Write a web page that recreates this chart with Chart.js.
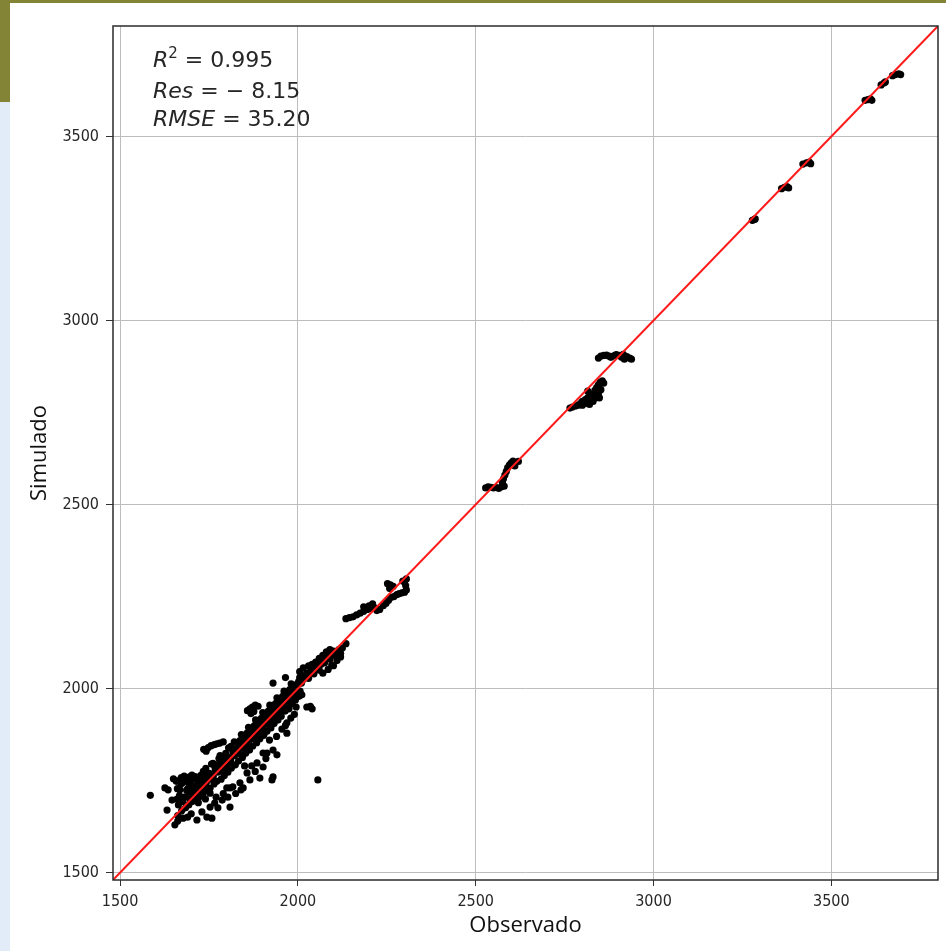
<!DOCTYPE html>
<html><head><meta charset="utf-8">
<script src="https://cdn.jsdelivr.net/npm/chart.js@4.4.0/dist/chart.umd.min.js"></script>
<style>
html,body{margin:0;padding:0;background:#fff;width:946px;height:951px;overflow:hidden;position:relative}
#olivTop{position:absolute;left:0;top:0;width:946px;height:3px;background:#848437}
#olivLeft{position:absolute;left:0;top:0;width:10px;height:102px;background:#848437}
#blueLeft{position:absolute;left:0;top:102px;width:10px;height:849px;background:#e1ecf8}
#c{position:absolute;left:0;top:0}
#stats{position:absolute;left:153px;top:46px;font-family:'DejaVu Sans',sans-serif;font-size:22px;line-height:28.5px;color:#262626;white-space:pre}
#stats .s{position:relative;top:-9px;font-size:15px}
</style></head>
<body>
<div id="olivTop"></div><div id="olivLeft"></div><div id="blueLeft"></div>
<canvas id="c" width="946" height="951"></canvas>
<div id="stats"><div><i>R</i><span class="s">2</span> = 0.995</div><div><i>Res</i> = − 8.15</div><div><i>RMSE</i> = 35.20</div></div>
<script>
// tick labels
const xTicks = [1500, 2000, 2500, 3000, 3500];
const yTicks = [1500, 2000, 2500, 3000, 3500];
const axisMin = 1480, axisMax = 3800;
// 1:1 line ends
const lineEnds = [1480, 3800];

// [Observado, Simulado]
const grupoDisperso = [
[1585,1710],[1626,1730],[1635,1725],[1646,1697],[1632,1670],[1654,1630],[1662,1640],[1677,1648],
[1690,1651],[1716,1643],[1744,1651],[1758,1648],[1753,1678],[1775,1676],[1766,1689],[1809,1678],
[1803,1705],[1787,1697],[1753,1716],[1716,1711],[1817,1733],[1691,1725],[1668,1725],[1700,1660],
[1730,1665],[1790,1715],[1770,1705],[1825,1715],[1840,1725],[1720,1690],[1740,1700],[1660,1700],
[1650,1755],[1658,1748]
];
const grupoBlob = [
[1665,1750],[1672,1758],[1680,1762],[1688,1755],[1695,1760],[1702,1765],[1710,1758],[1676,1745],[1698,1748],
[1735,1835],[1742,1830],[1748,1840],[1756,1845],[1765,1848],[1772,1850],[1780,1852],[1790,1855],
[1858,1940],[1865,1945],[1872,1950],[1880,1955],[1888,1952],[1868,1932],[1876,1938]
];
const grupoFaixa = [
[1662,1655],[1664,1684],[1667,1709],[1661,1728],
[1673,1668],[1676,1693],[1671,1741],[1678,1757],
[1684,1676],[1683,1706],[1687,1724],[1682,1748],
[1693,1684],[1696,1699],[1691,1729],[1694,1744],
[1703,1693],[1706,1715],[1701,1735],[1704,1754],
[1714,1697],[1712,1719],[1716,1738],[1711,1761],
[1723,1706],[1726,1725],[1721,1748],[1727,1764],
[1733,1713],[1736,1739],[1731,1752],[1734,1775],
[1744,1724],[1742,1743],[1747,1768],[1741,1783],
[1753,1729],[1756,1754],[1751,1770],[1757,1795],
[1764,1741],[1762,1762],[1767,1785],[1761,1797],
[1772,1748],[1775,1773],[1771,1793],[1778,1810],
[1784,1754],[1782,1779],[1786,1798],[1781,1818],
[1793,1764],[1796,1783],[1791,1813],[1797,1824],
[1803,1773],[1806,1798],[1801,1812],[1805,1839],
[1813,1784],[1811,1803],[1817,1829],[1812,1843],
[1824,1793],[1822,1818],[1826,1833],[1821,1855],
[1833,1803],[1836,1823],[1831,1849],[1837,1859],
[1844,1813],[1842,1838],[1846,1853],[1841,1875],
[1853,1824],[1856,1843],[1851,1869],[1857,1879],
[1864,1833],[1862,1858],[1866,1873],[1861,1895],
[1873,1844],[1876,1863],[1871,1889],[1877,1899],
[1884,1853],[1882,1878],[1886,1893],[1881,1915],
[1893,1864],[1896,1883],[1891,1909],[1897,1919],
[1904,1873],[1902,1898],[1906,1913],[1901,1935],
[1913,1884],[1916,1903],[1911,1929],[1917,1939],
[1924,1893],[1922,1918],[1926,1933],[1921,1955],
[1933,1905],[1936,1923],[1931,1949],[1937,1959],
[1944,1915],[1942,1938],[1946,1953],[1941,1975],
[1953,1925],[1956,1943],[1951,1969],[1957,1979],
[1964,1939],[1962,1958],[1966,1973],[1961,1993],
[1973,1949],[1976,1963],[1971,1989],[1977,1997],
[1984,1959],[1982,1978],[1986,1993],[1981,2013],
[1993,1969],[1996,1983],[1991,2009],
[2003,1979],[2006,1993],[2002,2019],
[1695,1718],[1725,1735],[1745,1757],[1788,1790],[1815,1816],[1848,1855],[1875,1880],[1905,1905],
[1935,1940],[1965,1968],[1708,1726],[1738,1760],[1768,1778],[1798,1806],[1828,1836],[1858,1866],
[1888,1899],[1918,1925],[1948,1958],[1978,1985]
];
const grupoDireita = [
[1913,1825],[1885,1798],[1902,1787],[1927,1752],[1893,1757],[1857,1771],[1865,1752],[1837,1744],
[1809,1730],[1846,1730],[1902,1825],[1930,1833],[1941,1820],[1800,1730],[1880,1775],[1910,1810],
[1870,1790],[1850,1790],[1920,1860],[1940,1870],[1955,1890],[1965,1900],[1980,1920],[1990,1930],
[1975,1945],[1995,1950],[1930,2015],[1965,2030],[2025,1950],[2040,1945],[2035,1952],[2006,1988],
[2011,1983],[1941,1915],[1969,1907],[1969,1879],[2056,1752],[1930,1760]
];
const grupo2100 = [
[1995,2010],[2005,2030],[2010,2015],[2015,2025],[2020,2035],[2025,2042],[2030,2028],[2035,2046],
[2040,2052],[2045,2040],[2050,2056],[2055,2062],[2060,2050],[2065,2066],[2070,2076],[2075,2070],
[2080,2086],[2085,2092],[2090,2080],[2095,2096],[2100,2102],[2105,2090],[2110,2100],[2115,2106],
[2120,2096],[2125,2110],[2135,2122],[2040,2066],[2050,2072],[2060,2082],[2070,2090],[2080,2100],
[2090,2106],[2100,2062],[2110,2076],[2120,2086],[2070,2042],[2085,2052],[2095,2064],[2005,2046],
[2015,2056],[2030,2062]
];
const grupo2250 = [
[2135,2190],[2145,2193],[2155,2195],[2165,2200],[2175,2205],[2185,2210],[2195,2215],[2205,2218],
[2215,2220],[2222,2212],[2230,2215],[2240,2225],[2248,2232],[2255,2240],[2262,2248],[2270,2250],
[2278,2255],[2285,2258],[2292,2260],[2300,2262],[2305,2268],[2303,2280],[2300,2290],[2305,2298],
[2295,2292],[2252,2285],[2260,2282],[2268,2278],[2258,2272],[2185,2222],[2200,2225],[2210,2230]
];
const grupo2550 = [
[2528,2545],[2535,2548],[2542,2547],[2550,2545],[2558,2546],[2565,2544],[2572,2548],[2580,2550],
[2575,2560],[2578,2570],[2582,2580],[2586,2590],[2590,2600],[2595,2608],[2600,2613],[2605,2618],
[2620,2617],[2610,2605]
];
const grupo2800 = [
[2765,2762],[2772,2765],[2780,2768],[2788,2770],[2795,2775],[2800,2780],[2808,2785],[2815,2790],
[2822,2795],[2830,2800],[2835,2810],[2840,2818],[2845,2825],[2850,2832],[2856,2836],[2860,2830],
[2852,2812],[2845,2800],[2838,2790],[2830,2780],[2820,2772],[2810,2775],[2800,2770],[2828,2788],
[2848,2790],[2815,2808]
];
const grupo2900 = [
[2845,2898],[2852,2903],[2860,2905],[2868,2906],[2875,2903],[2880,2900],[2888,2904],[2895,2907],
[2903,2905],[2910,2900],[2918,2895],[2925,2902],[2933,2898],[2938,2895],[2915,2908]
];
const grupoAlto = [
[3278,3272],[3283,3274],[3286,3276],
[3360,3358],[3368,3362],[3375,3364],[3380,3360],
[3420,3425],[3430,3428],[3438,3430],[3442,3426],
[3595,3598],[3603,3600],[3610,3602],[3614,3598],
[3640,3640],[3648,3645],[3652,3648],
[3672,3665],[3680,3668],[3690,3670],[3695,3668]
];

const pontos = [].concat(grupoDisperso, grupoBlob, grupoFaixa, grupoDireita, grupo2100,
  grupo2250, grupo2550, grupo2800, grupo2900, grupoAlto).map(p => ({x: p[0], y: p[1]}));

const tickFont = {family: "'DejaVu Sans Condensed', 'DejaVu Sans', sans-serif", size: 16};
const titleFont = {family: "'Open Sans', sans-serif", size: 22};

const frame = {
  id: 'frame',
  afterDraw(chart) {
    const {ctx, chartArea: a} = chart;
    ctx.save();
    ctx.strokeStyle = '#2b2b2b';
    ctx.lineWidth = 1.5;
    ctx.strokeRect(a.left, a.top, a.right - a.left, a.bottom - a.top);
    ctx.restore();
  }
};

new Chart(document.getElementById('c'), {
  type: 'scatter',
  data: {
    datasets: [
      {
        type: 'line',
        data: lineEnds.map(v => ({x: v, y: v})),
        borderColor: '#ff1a1a',
        borderWidth: 2,
        pointRadius: 0,
        fill: false,
        order: 0
      },
      {
        data: pontos,
        backgroundColor: '#000',
        borderColor: '#000',
        borderWidth: 0,
        pointRadius: 3.6,
        order: 1
      }
    ]
  },
  options: {
    responsive: false,
    animation: false,
    layout: {padding: {left: 0, right: 8, top: 26, bottom: 0}},
    plugins: {legend: {display: false}, tooltip: {enabled: false}},
    scales: {
      x: {
        type: 'linear', min: axisMin, max: axisMax,
        afterBuildTicks: s => { s.ticks = xTicks.map(v => ({value: v})); },
        afterFit: s => { s.height = 71; },
        grid: {color: '#bdbdbd', lineWidth: 1, tickColor: '#333', tickLength: 6},
        border: {display: false},
        ticks: {font: tickFont, color: '#262626', padding: 6, maxRotation: 0, callback: v => String(v)},
        title: {display: true, text: 'Observado', font: titleFont, color: '#111', padding: {top: 0, bottom: 12}}
      },
      y: {
        type: 'linear', min: axisMin, max: axisMax,
        afterBuildTicks: s => { s.ticks = yTicks.map(v => ({value: v})); },
        afterFit: s => { s.width = 113; },
        grid: {color: '#bdbdbd', lineWidth: 1, tickColor: '#333', tickLength: 7},
        border: {display: false},
        ticks: {font: tickFont, color: '#262626', padding: 7, callback: v => String(v)},
        title: {display: true, text: 'Simulado', font: titleFont, color: '#111', padding: {top: 27, bottom: 0}}
      }
    }
  },
  plugins: [frame]
});
</script>
</body></html>
